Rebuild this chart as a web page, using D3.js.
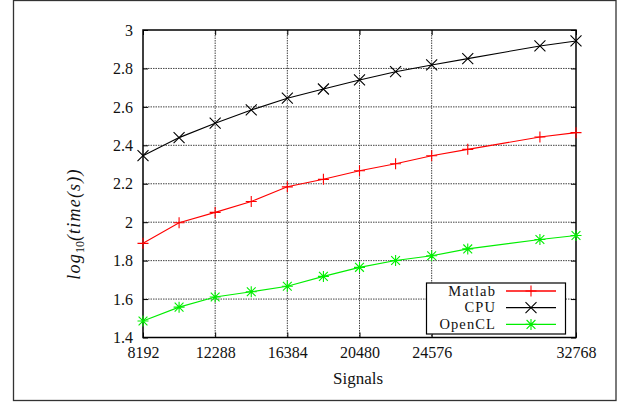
<!DOCTYPE html>
<html><head><meta charset="utf-8">
<script src="https://cdn.jsdelivr.net/npm/d3@7"></script>
<style>
html,body{margin:0;padding:0;background:#fff;}
</style></head>
<body><svg id="c" width="621" height="403"></svg>
<script>
const signals = [8192, 10240, 12288, 14336, 16384, 18432, 20480, 22528, 24576, 26624, 30720, 32768];
const matlab  = [1.89, 1.997, 2.051, 2.108, 2.184, 2.223, 2.268, 2.304, 2.346, 2.379, 2.443, 2.466];
const cpu     = [2.346, 2.44, 2.515, 2.584, 2.645, 2.693, 2.740, 2.783, 2.818, 2.851, 2.917, 2.943];
const opencl  = [1.486, 1.558, 1.611, 1.638, 1.667, 1.718, 1.765, 1.801, 1.825, 1.861, 1.910, 1.931];
const xTicks = [8192, 12288, 16384, 20480, 24576, 32768];
const yTicks = [1.4, 1.6, 1.8, 2, 2.2, 2.4, 2.6, 2.8, 3];
const seriesNames = ["Matlab", "CPU", "OpenCL"];
const seriesColors = ["#ff0000", "#000000", "#00ee00"];
const seriesShapes = ["plus", "cross", "star"];

const FONT = "'Liberation Serif', 'Times New Roman', 'DejaVu Serif', serif";
const svg = d3.select("#c").attr("font-family", FONT);
const L = 143, R = 576, T = 30, B = 337.5;
const x = d3.scaleLinear().domain([8192, 32768]).range([L, R]);
const y = d3.scaleLinear().domain([1.4, 3]).range([B, T]);

// outer frame
svg.append("rect").attr("x", 13.5).attr("y", 0.5).attr("width", 602.5).attr("height", 400)
  .attr("fill", "none").attr("stroke", "#333").attr("stroke-width", 1.3);

// grid
const g = svg.append("g");
g.selectAll(".gy").data(yTicks.slice(1, -1)).join("line")
  .attr("x1", L).attr("x2", R).attr("y1", d => y(d)).attr("y2", d => y(d))
  .attr("stroke", "#444").attr("stroke-width", 1).attr("stroke-dasharray", "1.5,1");
g.selectAll(".gx").data(xTicks.slice(1, -1)).join("line")
  .attr("y1", T).attr("y2", B).attr("x1", d => x(d)).attr("x2", d => x(d))
  .attr("stroke", "#444").attr("stroke-width", 1).attr("stroke-dasharray", "1.5,1");

// axes
const ax = d3.axisBottom(x).tickValues(xTicks).tickFormat(d3.format("d")).tickSize(-5).tickPadding(9);
const ay = d3.axisLeft(y).tickValues(yTicks).tickFormat(d => d3.format("~g")(d)).tickSize(-5).tickPadding(10);
const gx = svg.append("g").attr("transform", `translate(0,${B})`).call(ax);
const gy = svg.append("g").attr("transform", `translate(${L},0)`).call(ay);
[gx, gy].forEach(a => {
  a.attr("font-family", FONT).attr("font-size", 16);
  a.select(".domain").remove();
  a.selectAll("line").attr("stroke", "#000");
  a.selectAll("text").attr("fill", "#111");
});
// mirrored ticks top/right
svg.append("g").attr("transform", `translate(0,${T})`)
  .call(d3.axisTop(x).tickValues(xTicks).tickFormat("").tickSize(-5))
  .call(a => { a.select(".domain").remove(); a.selectAll("line").attr("stroke", "#000"); });
svg.append("g").attr("transform", `translate(${R},0)`)
  .call(d3.axisRight(y).tickValues(yTicks).tickFormat("").tickSize(-5))
  .call(a => { a.select(".domain").remove(); a.selectAll("line").attr("stroke", "#000"); });

// plot border
svg.append("rect").attr("x", L).attr("y", T).attr("width", R - L).attr("height", B - T)
  .attr("fill", "none").attr("stroke", "#000").attr("stroke-width", 1.5);

// axis labels
svg.append("text").attr("x", 358).attr("y", 384).attr("text-anchor", "middle")
  .attr("font-size", 17).attr("fill", "#111").text("Signals");
const yl = svg.append("text").attr("transform", `translate(80,224) rotate(-90)`)
  .attr("text-anchor", "middle").attr("font-size", 18).attr("letter-spacing", 1.2).attr("fill", "#111");
yl.append("tspan").attr("font-style", "italic").text("log");
yl.append("tspan").attr("dy", 4).attr("font-size", 12).attr("letter-spacing", 0).text("10");
yl.append("tspan").attr("dy", -4).attr("font-style", "italic").text("(time(s))");

// markers
function marker(sel, shape, cx, cy, color) {
  const s = 5.5;
  let p;
  if (shape === "plus") p = `M${cx - s},${cy}H${cx + s}M${cx},${cy - s}V${cy + s}`;
  else if (shape === "cross") p = `M${cx - s},${cy - s}L${cx + s},${cy + s}M${cx - s},${cy + s}L${cx + s},${cy - s}`;
  else p = `M${cx - s},${cy}H${cx + s}M${cx},${cy - s}V${cy + s}M${cx - s * 0.8},${cy - s * 0.8}L${cx + s * 0.8},${cy + s * 0.8}M${cx - s * 0.8},${cy + s * 0.8}L${cx + s * 0.8},${cy - s * 0.8}`;
  sel.append("path").attr("d", p).attr("stroke", color).attr("stroke-width", 1.1).attr("fill", "none");
}

const allSeries = [matlab, cpu, opencl];
const line = d3.line().x((d, i) => x(signals[i])).y(d => y(d));
allSeries.forEach((vals, k) => {
  const gs = svg.append("g");
  gs.append("path").datum(vals).attr("d", line).attr("fill", "none")
    .attr("stroke", seriesColors[k]).attr("stroke-width", 1.1);
  vals.forEach((v, i) => marker(gs, seriesShapes[k], x(signals[i]), y(v), seriesColors[k]));
});

// legend
const lg = svg.append("g");
lg.append("rect").attr("x", 426.5).attr("y", 283).attr("width", 139).attr("height", 51)
  .attr("fill", "#fff").attr("stroke", "#000").attr("stroke-width", 1.2);
seriesNames.forEach((n, k) => {
  const cy = 291 + k * 16.7;
  lg.append("text").attr("x", 496).attr("y", cy + 4.5).attr("text-anchor", "end")
    .attr("font-size", 14.5).attr("letter-spacing", 1.1).attr("fill", "#111").text(n);
  lg.append("line").attr("x1", 506).attr("x2", 556).attr("y1", cy).attr("y2", cy)
    .attr("stroke", seriesColors[k]).attr("stroke-width", 1.3);
  marker(lg, seriesShapes[k], 531, cy, seriesColors[k]);
});
</script></body></html>
